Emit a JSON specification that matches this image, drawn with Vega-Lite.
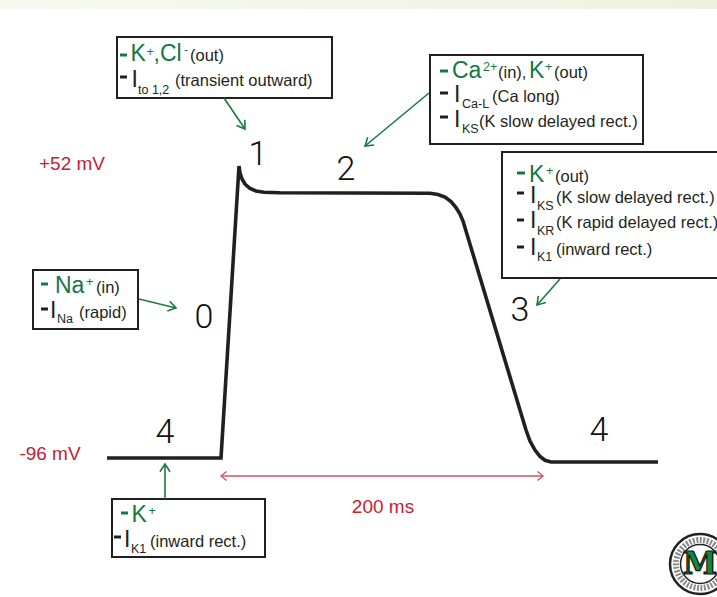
{
  "$schema": "https://vega.github.io/schema/vega-lite/v6.json",
  "width": 717,
  "height": 597,
  "padding": 0,
  "autosize": {"type": "none"},
  "background": "#ffffff",
  "config": {"view": {"stroke": null}, "text": {"font": "Liberation Sans"}},
  "datasets": {
    "band": [{"x1": 0, "x2": 717, "y1": 0, "y2": 9}],
    "boxes": [
      {"box": "Ito", "x1": 117, "x2": 332, "y1": 37, "y2": 98},
      {"box": "ICaL", "x1": 430, "x2": 643, "y1": 55, "y2": 144},
      {"box": "IK", "x1": 502, "x2": 722, "y1": 152, "y2": 278},
      {"box": "INa", "x1": 33, "x2": 138, "y1": 270, "y2": 329},
      {"box": "IK1", "x1": 112, "x2": 265, "y1": 499, "y2": 557}
    ],
    "curve": [
      {"i": 1, "x": 107, "y": 458},
      {"i": 2, "x": 221, "y": 458},
      {"i": 3, "x": 239, "y": 166},
      {"i": 4, "x": 240, "y": 173},
      {"i": 5, "x": 242, "y": 179},
      {"i": 6, "x": 245, "y": 184},
      {"i": 7, "x": 250, "y": 188.5},
      {"i": 8, "x": 256, "y": 191},
      {"i": 9, "x": 264, "y": 192.3},
      {"i": 10, "x": 280, "y": 192.8},
      {"i": 11, "x": 430, "y": 193.3},
      {"i": 12, "x": 438, "y": 194.5},
      {"i": 13, "x": 445, "y": 197},
      {"i": 14, "x": 451, "y": 201.5},
      {"i": 15, "x": 456, "y": 207.5},
      {"i": 16, "x": 460, "y": 214},
      {"i": 17, "x": 463, "y": 221},
      {"i": 18, "x": 526, "y": 430},
      {"i": 19, "x": 530, "y": 441},
      {"i": 20, "x": 535, "y": 450},
      {"i": 21, "x": 540, "y": 456.5},
      {"i": 22, "x": 545, "y": 460.3},
      {"i": 23, "x": 551, "y": 462},
      {"i": 24, "x": 658, "y": 462}
    ],
    "dashes": [
      {"x1": 120, "x2": 127, "y": 55, "kind": "ion"},
      {"x1": 120, "x2": 127, "y": 77, "kind": "current"},
      {"x1": 440, "x2": 448, "y": 71, "kind": "ion"},
      {"x1": 440, "x2": 448, "y": 93, "kind": "current"},
      {"x1": 440, "x2": 448, "y": 117, "kind": "current"},
      {"x1": 517, "x2": 525, "y": 173, "kind": "ion"},
      {"x1": 517, "x2": 524, "y": 193, "kind": "current"},
      {"x1": 517, "x2": 524, "y": 220, "kind": "current"},
      {"x1": 517, "x2": 524, "y": 247, "kind": "current"},
      {"x1": 41, "x2": 48, "y": 284, "kind": "ion"},
      {"x1": 41, "x2": 48, "y": 309, "kind": "current"},
      {"x1": 121, "x2": 128, "y": 513, "kind": "ion"},
      {"x1": 114, "x2": 121, "y": 537, "kind": "current"}
    ],
    "boxtext": [
      {"x": 130.5, "y": 61, "t": "K", "role": "big", "kind": "ion"},
      {"x": 146.5, "y": 56, "t": "+", "role": "script", "kind": "ion"},
      {"x": 153.5, "y": 61, "t": ",Cl", "role": "big", "kind": "ion"},
      {"x": 184, "y": 54, "t": "-", "role": "script", "kind": "ion"},
      {"x": 190, "y": 61, "t": "(out)", "role": "note", "kind": "current"},
      {"x": 131.5, "y": 87, "t": "I", "role": "big", "kind": "current"},
      {"x": 138, "y": 94, "t": "to 1,2", "role": "script", "kind": "current"},
      {"x": 175, "y": 86, "t": "(transient outward)", "role": "note", "kind": "current"},

      {"x": 452, "y": 78, "t": "Ca", "role": "big", "kind": "ion"},
      {"x": 483, "y": 71, "t": "2+", "role": "script", "kind": "ion"},
      {"x": 498, "y": 78, "t": "(in),", "role": "note", "kind": "current"},
      {"x": 529, "y": 78, "t": "K", "role": "big", "kind": "ion"},
      {"x": 545, "y": 71, "t": "+", "role": "script", "kind": "ion"},
      {"x": 554, "y": 78, "t": "(out)", "role": "note", "kind": "current"},
      {"x": 454, "y": 102, "t": "I", "role": "big", "kind": "current"},
      {"x": 462, "y": 108, "t": "Ca-L", "role": "script", "kind": "current"},
      {"x": 492, "y": 102, "t": "(Ca long)", "role": "note", "kind": "current"},
      {"x": 454, "y": 127, "t": "I", "role": "big", "kind": "current"},
      {"x": 462, "y": 133, "t": "KS", "role": "script", "kind": "current"},
      {"x": 479, "y": 127, "t": "(K slow delayed rect.)", "role": "note", "kind": "current"},

      {"x": 529, "y": 182, "t": "K", "role": "big", "kind": "ion"},
      {"x": 546, "y": 175, "t": "+", "role": "script", "kind": "ion"},
      {"x": 555, "y": 182, "t": "(out)", "role": "note", "kind": "current"},
      {"x": 530, "y": 203, "t": "I", "role": "big", "kind": "current"},
      {"x": 537, "y": 210, "t": "KS", "role": "script", "kind": "current"},
      {"x": 556, "y": 203, "t": "(K slow delayed rect.)", "role": "note", "kind": "current"},
      {"x": 530, "y": 228, "t": "I", "role": "big", "kind": "current"},
      {"x": 537, "y": 235, "t": "KR", "role": "script", "kind": "current"},
      {"x": 556, "y": 228, "t": "(K rapid delayed rect.)", "role": "note", "kind": "current"},
      {"x": 530, "y": 255, "t": "I", "role": "big", "kind": "current"},
      {"x": 537, "y": 261, "t": "K1", "role": "script", "kind": "current"},
      {"x": 556, "y": 255, "t": "(inward rect.)", "role": "note", "kind": "current"},

      {"x": 55, "y": 293, "t": "Na", "role": "big", "kind": "ion"},
      {"x": 86, "y": 286, "t": "+", "role": "script", "kind": "ion"},
      {"x": 96, "y": 293, "t": "(in)", "role": "note", "kind": "current"},
      {"x": 50, "y": 318, "t": "I", "role": "big", "kind": "current"},
      {"x": 57, "y": 323, "t": "Na", "role": "script", "kind": "current"},
      {"x": 79, "y": 318, "t": "(rapid)", "role": "note", "kind": "current"},

      {"x": 131.5, "y": 522, "t": "K", "role": "big", "kind": "ion"},
      {"x": 148.5, "y": 515, "t": "+", "role": "script", "kind": "ion"},
      {"x": 124, "y": 547, "t": "I", "role": "big", "kind": "current"},
      {"x": 131, "y": 553, "t": "K1", "role": "script", "kind": "current"},
      {"x": 150, "y": 547, "t": "(inward rect.)", "role": "note", "kind": "current"}
    ],
    "phases": [
      {"x": 258, "y": 165, "phase": "1"},
      {"x": 346, "y": 180, "phase": "2"},
      {"x": 204, "y": 328, "phase": "0"},
      {"x": 520, "y": 321, "phase": "3"},
      {"x": 165, "y": 443, "phase": "4"},
      {"x": 599, "y": 441, "phase": "4"}
    ],
    "labels": [
      {"x": 72, "y": 170, "label": "+52 mV"},
      {"x": 50, "y": 460, "label": "-96 mV"},
      {"x": 383, "y": 513, "label": "200 ms"}
    ],
    "arrows": [
      {"x1": 224, "y1": 98, "x2": 245, "y2": 129},
      {"x1": 429, "y1": 93, "x2": 365, "y2": 146},
      {"x1": 560, "y1": 279, "x2": 537, "y2": 305},
      {"x1": 139, "y1": 299, "x2": 176, "y2": 308},
      {"x1": 165, "y1": 499, "x2": 165, "y2": 464}
    ],
    "span": [
      {"x1": 382, "y1": 476, "x2": 221, "y2": 476},
      {"x1": 382, "y1": 476, "x2": 543, "y2": 476}
    ],
    "seal": [{"x": 700, "y": 564, "name": "M"}]
  },
  "layer": [
    {
      "data": {"name": "band"},
      "mark": {"type": "rect", "fill": {"gradient": "linear", "x1": 0, "y1": 0, "x2": 1, "y2": 0, "stops": [{"offset": 0, "color": "#f7f9f0"}, {"offset": 1, "color": "#edf2df"}]}},
      "encoding": {
        "x": {"field": "x1", "type": "quantitative", "scale": {"domain": [0, 717], "nice": false, "zero": false}, "axis": null},
        "x2": {"field": "x2"},
        "y": {"field": "y1", "type": "quantitative", "scale": {"domain": [0, 597], "reverse": true, "nice": false, "zero": false}, "axis": null},
        "y2": {"field": "y2"}
      }
    },
    {
      "data": {"name": "boxes"},
      "mark": {"type": "rect", "fill": "#ffffff", "stroke": "#231f20", "strokeWidth": 2},
      "encoding": {
        "x": {"field": "x1", "type": "quantitative", "scale": {"domain": [0, 717], "nice": false, "zero": false}, "axis": null},
        "x2": {"field": "x2"},
        "y": {"field": "y1", "type": "quantitative", "scale": {"domain": [0, 597], "reverse": true, "nice": false, "zero": false}, "axis": null},
        "y2": {"field": "y2"}
      }
    },
    {
      "data": {"name": "curve"},
      "mark": {"type": "line", "color": "#231f20", "strokeWidth": 3.6, "strokeJoin": "miter", "strokeCap": "butt"},
      "encoding": {
        "x": {"field": "x", "type": "quantitative", "scale": {"domain": [0, 717], "nice": false, "zero": false}, "axis": null},
        "y": {"field": "y", "type": "quantitative", "scale": {"domain": [0, 597], "reverse": true, "nice": false, "zero": false}, "axis": null},
        "order": {"field": "i", "type": "quantitative"}
      }
    },
    {
      "data": {"name": "dashes"},
      "mark": {"type": "rule", "strokeWidth": 3, "strokeCap": "butt"},
      "encoding": {
        "x": {"field": "x1", "type": "quantitative", "scale": {"domain": [0, 717], "nice": false, "zero": false}, "axis": null},
        "x2": {"field": "x2"},
        "y": {"field": "y", "type": "quantitative", "scale": {"domain": [0, 597], "reverse": true, "nice": false, "zero": false}, "axis": null},
        "color": {"field": "kind", "type": "nominal", "scale": {"domain": ["ion", "current"], "range": ["#16783f", "#231f20"]}, "legend": null}
      }
    },
    {
      "data": {"name": "boxtext"},
      "transform": [{"filter": "datum.role === 'big'"}],
      "mark": {"type": "text", "align": "left", "baseline": "alphabetic", "fontSize": 23, "font": "Liberation Sans"},
      "encoding": {
        "x": {"field": "x", "type": "quantitative", "scale": {"domain": [0, 717], "nice": false, "zero": false}, "axis": null},
        "y": {"field": "y", "type": "quantitative", "scale": {"domain": [0, 597], "reverse": true, "nice": false, "zero": false}, "axis": null},
        "text": {"field": "t"},
        "color": {"field": "kind", "type": "nominal", "scale": {"domain": ["ion", "current"], "range": ["#16783f", "#231f20"]}, "legend": null}
      }
    },
    {
      "data": {"name": "boxtext"},
      "transform": [{"filter": "datum.role === 'note'"}],
      "mark": {"type": "text", "align": "left", "baseline": "alphabetic", "fontSize": 16.5, "font": "Liberation Sans"},
      "encoding": {
        "x": {"field": "x", "type": "quantitative", "scale": {"domain": [0, 717], "nice": false, "zero": false}, "axis": null},
        "y": {"field": "y", "type": "quantitative", "scale": {"domain": [0, 597], "reverse": true, "nice": false, "zero": false}, "axis": null},
        "text": {"field": "t"},
        "color": {"field": "kind", "type": "nominal", "scale": {"domain": ["ion", "current"], "range": ["#16783f", "#231f20"]}, "legend": null}
      }
    },
    {
      "data": {"name": "boxtext"},
      "transform": [{"filter": "datum.role === 'script'"}],
      "mark": {"type": "text", "align": "left", "baseline": "alphabetic", "fontSize": 12.5, "font": "Liberation Sans"},
      "encoding": {
        "x": {"field": "x", "type": "quantitative", "scale": {"domain": [0, 717], "nice": false, "zero": false}, "axis": null},
        "y": {"field": "y", "type": "quantitative", "scale": {"domain": [0, 597], "reverse": true, "nice": false, "zero": false}, "axis": null},
        "text": {"field": "t"},
        "color": {"field": "kind", "type": "nominal", "scale": {"domain": ["ion", "current"], "range": ["#16783f", "#231f20"]}, "legend": null}
      }
    },
    {
      "data": {"name": "phases"},
      "mark": {"type": "text", "align": "center", "baseline": "alphabetic", "fontSize": 34, "font": "Roboto", "fontWeight": 300, "color": "#111111"},
      "encoding": {
        "x": {"field": "x", "type": "quantitative", "scale": {"domain": [0, 717], "nice": false, "zero": false}, "axis": null},
        "y": {"field": "y", "type": "quantitative", "scale": {"domain": [0, 597], "reverse": true, "nice": false, "zero": false}, "axis": null},
        "text": {"field": "phase"}
      }
    },
    {
      "data": {"name": "labels"},
      "mark": {"type": "text", "align": "center", "baseline": "alphabetic", "fontSize": 19, "font": "Liberation Sans", "color": "#c8202f"},
      "encoding": {
        "x": {"field": "x", "type": "quantitative", "scale": {"domain": [0, 717], "nice": false, "zero": false}, "axis": null},
        "y": {"field": "y", "type": "quantitative", "scale": {"domain": [0, 597], "reverse": true, "nice": false, "zero": false}, "axis": null},
        "text": {"field": "label"}
      }
    },
    {
      "data": {"name": "arrows"},
      "mark": {"type": "rule", "color": "#1b7a43", "strokeWidth": 1.6},
      "encoding": {
        "x": {"field": "x1", "type": "quantitative", "scale": {"domain": [0, 717], "nice": false, "zero": false}, "axis": null},
        "x2": {"field": "x2"},
        "y": {"field": "y1", "type": "quantitative", "scale": {"domain": [0, 597], "reverse": true, "nice": false, "zero": false}, "axis": null},
        "y2": {"field": "y2"}
      }
    },
    {
      "data": {"name": "arrows"},
      "transform": [{"calculate": "atan2(datum.x2 - datum.x1, datum.y1 - datum.y2) * 180 / PI", "as": "ang"}],
      "mark": {"type": "point", "shape": "M -0.75 1.15 L 0 0 L 0.75 1.15", "filled": false, "color": "#1b7a43", "strokeWidth": 1.6, "size": 180, "opacity": 1},
      "encoding": {
        "x": {"field": "x2", "type": "quantitative", "scale": {"domain": [0, 717], "nice": false, "zero": false}, "axis": null},
        "y": {"field": "y2", "type": "quantitative", "scale": {"domain": [0, 597], "reverse": true, "nice": false, "zero": false}, "axis": null},
        "angle": {"field": "ang", "type": "quantitative", "scale": null}
      }
    },
    {
      "data": {"name": "span"},
      "mark": {"type": "rule", "color": "#d8505e", "strokeWidth": 1.3},
      "encoding": {
        "x": {"field": "x1", "type": "quantitative", "scale": {"domain": [0, 717], "nice": false, "zero": false}, "axis": null},
        "x2": {"field": "x2"},
        "y": {"field": "y1", "type": "quantitative", "scale": {"domain": [0, 597], "reverse": true, "nice": false, "zero": false}, "axis": null},
        "y2": {"field": "y2"}
      }
    },
    {
      "data": {"name": "span"},
      "transform": [{"calculate": "atan2(datum.x2 - datum.x1, datum.y1 - datum.y2) * 180 / PI", "as": "ang"}],
      "mark": {"type": "point", "shape": "M -0.9 1.1 L 0 0 L 0.9 1.1", "filled": false, "color": "#d8505e", "strokeWidth": 1.3, "size": 100, "opacity": 1},
      "encoding": {
        "x": {"field": "x2", "type": "quantitative", "scale": {"domain": [0, 717], "nice": false, "zero": false}, "axis": null},
        "y": {"field": "y2", "type": "quantitative", "scale": {"domain": [0, 597], "reverse": true, "nice": false, "zero": false}, "axis": null},
        "angle": {"field": "ang", "type": "quantitative", "scale": null}
      }
    },
    {
      "data": {"name": "seal"},
      "mark": {"type": "point", "shape": "circle", "filled": true, "fill": "#ffffff", "stroke": "#222222", "strokeWidth": 2.5, "size": 3600, "opacity": 1},
      "encoding": {
        "x": {"field": "x", "type": "quantitative", "scale": {"domain": [0, 717], "nice": false, "zero": false}, "axis": null},
        "y": {"field": "y", "type": "quantitative", "scale": {"domain": [0, 597], "reverse": true, "nice": false, "zero": false}, "axis": null}
      }
    },
    {
      "data": {"name": "seal"},
      "mark": {"type": "point", "shape": "circle", "filled": false, "color": "#8a8a8a", "strokeWidth": 6, "strokeDash": [2, 1.5], "size": 2300, "opacity": 1},
      "encoding": {
        "x": {"field": "x", "type": "quantitative", "scale": {"domain": [0, 717], "nice": false, "zero": false}, "axis": null},
        "y": {"field": "y", "type": "quantitative", "scale": {"domain": [0, 597], "reverse": true, "nice": false, "zero": false}, "axis": null}
      }
    },
    {
      "data": {"name": "seal"},
      "mark": {"type": "point", "shape": "circle", "filled": true, "fill": "#ffffff", "stroke": "#222222", "strokeWidth": 1.5, "size": 1520, "opacity": 1},
      "encoding": {
        "x": {"field": "x", "type": "quantitative", "scale": {"domain": [0, 717], "nice": false, "zero": false}, "axis": null},
        "y": {"field": "y", "type": "quantitative", "scale": {"domain": [0, 597], "reverse": true, "nice": false, "zero": false}, "axis": null}
      }
    },
    {
      "data": {"name": "seal"},
      "mark": {"type": "text", "align": "center", "baseline": "middle", "fontSize": 31, "font": "DejaVu Serif", "fontWeight": "bold", "fill": "#0b8a3e", "stroke": "#111111", "strokeWidth": 1.2, "dy": 1},
      "encoding": {
        "x": {"field": "x", "type": "quantitative", "scale": {"domain": [0, 717], "nice": false, "zero": false}, "axis": null},
        "y": {"field": "y", "type": "quantitative", "scale": {"domain": [0, 597], "reverse": true, "nice": false, "zero": false}, "axis": null},
        "text": {"field": "name"}
      }
    }
  ]
}
